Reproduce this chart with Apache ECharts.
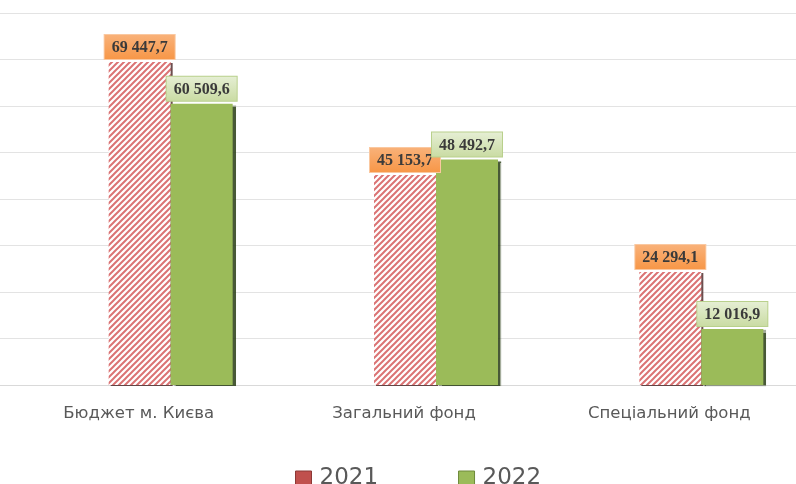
<!DOCTYPE html>
<html>
<head>
<meta charset="utf-8">
<script src="https://cdn.jsdelivr.net/npm/echarts@6/dist/echarts.min.js"></script>
<style>html,body{margin:0;padding:0;background:#fff}#c{width:796px;height:484px}</style>
</head>
<body>
<div id="c"></div>
<script>
var categories = ['Бюджет м. Києва', 'Загальний фонд', 'Спеціальний фонд'];
var values2021 = [69447.7, 45153.7, 24294.1];
var values2022 = [60509.6, 48492.7, 12016.9];
var seriesNames = ['2021', '2022'];
var yMax = 80000;
var yStep = 10000;

function fmt(v) {
  var s = v.toFixed(1).split('.');
  var i = s[0].replace(/\B(?=(\d{3})+(?!\d))/g, ' ');
  return i + ',' + s[1];
}

var cv = document.createElement('canvas');
cv.width = 6; cv.height = 6;
var cx = cv.getContext('2d');
cx.fillStyle = '#ffffff';
cx.fillRect(0, 0, 6, 6);
cx.strokeStyle = '#DB7374';
cx.lineWidth = 2;
cx.beginPath();
cx.moveTo(-1, 7); cx.lineTo(7, -1);
cx.moveTo(-4, 4); cx.lineTo(4, -4);
cx.moveTo(2, 10); cx.lineTo(10, 2);
cx.stroke();

var chart = echarts.init(document.getElementById('c'), null, {renderer: 'canvas'});
var labelBase = {
  show: true,
  position: 'top',
  distance: 3,
  fontFamily: 'Liberation Serif',
  fontWeight: 'bold',
  fontSize: 16,
  color: '#3A3A3A',
  padding: [5, 7, 3, 7],
  borderWidth: 1,
  formatter: function (p) { return fmt(p.value); }
};
chart.setOption({
  animation: false,
  grid: {left: 0, right: 0, top: 13, bottom: 99},
  legend: {
    data: [
      {name: seriesNames[0], itemStyle: {color: '#C0504D', borderColor: '#8C3836', borderWidth: 1}},
      {name: seriesNames[1], itemStyle: {color: '#9BBB59', borderColor: '#6E8A3A', borderWidth: 1}}
    ],
    left: 290,
    top: 462,
    itemWidth: 16,
    itemHeight: 15,
    itemGap: 80,
    textStyle: {fontFamily: 'DejaVu Sans', fontSize: 23, color: '#595959', padding: [0, 0, 0, 3]},
    icon: 'rect'
  },
  xAxis: {
    type: 'category',
    data: categories,
    axisLine: {lineStyle: {color: '#D9D9D9'}},
    axisTick: {show: false},
    axisLabel: {fontFamily: 'DejaVu Sans', fontSize: 16.5, color: '#595959', margin: 20, padding: [0, 0, 0, 12]}
  },
  yAxis: {
    type: 'value',
    min: 0,
    max: yMax,
    interval: yStep,
    axisLabel: {show: false},
    axisLine: {show: false},
    axisTick: {show: false},
    splitLine: {lineStyle: {color: '#E3E3E3', width: 1}}
  },
  series: [
    {
      name: '',
      type: 'bar',
      barWidth: 76,
      barGap: '0%',
      data: ['-', '-', '-']
    },
    {
      name: seriesNames[0],
      type: 'bar',
      barWidth: 62,
      barGap: '0%',
      data: values2021,
      itemStyle: {
        color: {image: cv, repeat: 'repeat'},
        shadowColor: 'rgba(60,20,20,0.75)',
        shadowOffsetX: 2,
        shadowOffsetY: 1,
        shadowBlur: 1
      },
      label: Object.assign({}, labelBase, {
        backgroundColor: {type: 'linear', x: 0, y: 0, x2: 0, y2: 1,
          colorStops: [{offset: 0, color: '#F9B27A'}, {offset: 1, color: '#F79646'}]},
        borderColor: '#FAC8A0'
      })
    },
    {
      name: seriesNames[1],
      type: 'bar',
      barWidth: 62,
      barGap: '0%',
      data: values2022,
      itemStyle: {
        color: '#9BBB59',
        shadowColor: 'rgba(40,60,20,0.85)',
        shadowOffsetX: 3,
        shadowOffsetY: 1,
        shadowBlur: 1
      },
      label: Object.assign({}, labelBase, {
        backgroundColor: {type: 'linear', x: 0, y: 0, x2: 0, y2: 1,
          colorStops: [{offset: 0, color: '#E6EFD5'}, {offset: 1, color: '#C9DBA2'}]},
        borderColor: '#B9D08C'
      })
    }
  ]
});
</script>
</body>
</html>
